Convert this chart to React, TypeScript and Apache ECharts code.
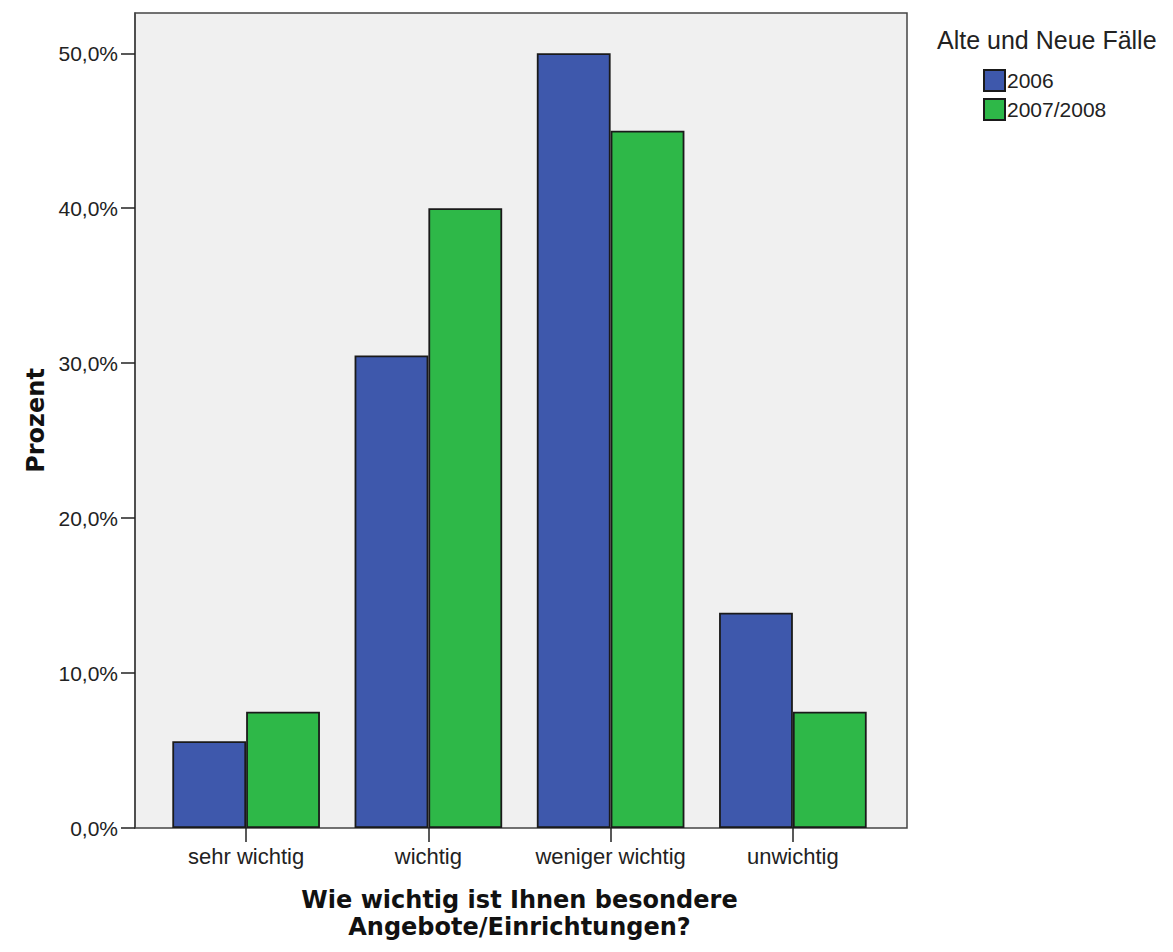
import React, { useEffect, useRef } from "react";
import * as echarts from "echarts";

const categories = ["sehr wichtig", "wichtig", "weniger wichtig", "unwichtig"];
const series2006 = [5.6, 30.5, 50.0, 13.9];
const series2007 = [7.5, 40.0, 45.0, 7.5];
const seriesNames = ["2006", "2007/2008"];
const yTicks = [0, 10, 20, 30, 40, 50];
const yMax = 52.6;

const REG = "'Liberation Sans', Arial, sans-serif";
const BOLD = "'DejaVu Sans', Verdana, sans-serif";

export default function App() {
  const ref = useRef<HTMLDivElement>(null);
  useEffect(() => {
    document.body.style.margin = "0";
    const chart = echarts.init(ref.current!, null, { renderer: "svg" });
    const fmt = (v: number) => v.toFixed(1).replace(".", ",") + "%";
    chart.setOption({
      animation: false,
      backgroundColor: "#ffffff",
      title: {
        text: "Alte und Neue Fälle",
        left: 937,
        top: 27,
        padding: 0,
        textStyle: { fontFamily: REG, fontSize: 25, fontWeight: "normal", color: "#222" },
      },
      legend: {
        data: seriesNames,
        orient: "vertical",
        left: 983,
        top: 69,
        padding: 0,
        itemWidth: 21,
        itemHeight: 21,
        itemGap: 6,
        icon: "rect",
        textStyle: { fontFamily: REG, fontSize: 21, color: "#222", padding: [0, 0, 0, -3] },
      },
      grid: [
        {
          left: 135,
          top: 13,
          width: 772,
          height: 815,
          show: true,
          backgroundColor: "#f0f0f0",
          borderColor: "#444",
          borderWidth: 1.5,
        },
        {
          left: 155,
          top: 13,
          width: 729,
          height: 815,
        },
      ],
      xAxis: [
        { type: "value", gridIndex: 0, show: false, min: 0, max: 1 },
        {
          type: "category",
          gridIndex: 1,
          data: categories,
          axisLine: { show: false },
          axisTick: { show: true, interval: 0, alignWithLabel: true, length: 14, lineStyle: { color: "#222", width: 1.5 } },
          axisLabel: { interval: 0, fontFamily: REG, fontSize: 22, color: "#222", margin: 17 },
          name: "Wie wichtig ist Ihnen besondere\nAngebote/Einrichtungen?",
          nameLocation: "middle",
          nameGap: 58,
          nameTextStyle: { fontFamily: BOLD, fontSize: 24, fontWeight: "bold", color: "#111", lineHeight: 27 },
        },
      ],
      yAxis: [
        {
          type: "value",
          gridIndex: 0,
          min: 0,
          max: yMax,
          axisLine: { show: true, lineStyle: { color: "#444", width: 1.5 } },
          axisTick: { show: true, length: 14, customValues: yTicks, lineStyle: { color: "#222", width: 1.5 } },
          axisLabel: { customValues: yTicks, formatter: fmt, fontFamily: REG, fontSize: 21, color: "#222", margin: 17 },
          splitLine: { show: false },
          name: "Prozent",
          nameLocation: "middle",
          nameGap: 87,
          nameTextStyle: { fontFamily: BOLD, fontSize: 24, fontWeight: "bold", color: "#111" },
        },
        { type: "value", gridIndex: 1, min: 0, max: yMax, show: false, splitLine: { show: false } },
      ],
      series: [
        {
          name: seriesNames[0],
          type: "bar",
          xAxisIndex: 1,
          yAxisIndex: 1,
          data: series2006,
          barGap: "0%",
          barCategoryGap: "19%",
          itemStyle: { color: "#3e58ac", borderColor: "#1a1a1a", borderWidth: 1.8 },
        },
        {
          name: seriesNames[1],
          type: "bar",
          xAxisIndex: 1,
          yAxisIndex: 1,
          data: series2007,
          barGap: "0%",
          barCategoryGap: "19%",
          itemStyle: { color: "#2eb848", borderColor: "#1a1a1a", borderWidth: 1.8 },
        },
      ],
    });
    return () => chart.dispose();
  }, []);
  return <div ref={ref} style={{ width: 1173, height: 952 }} />;
}
